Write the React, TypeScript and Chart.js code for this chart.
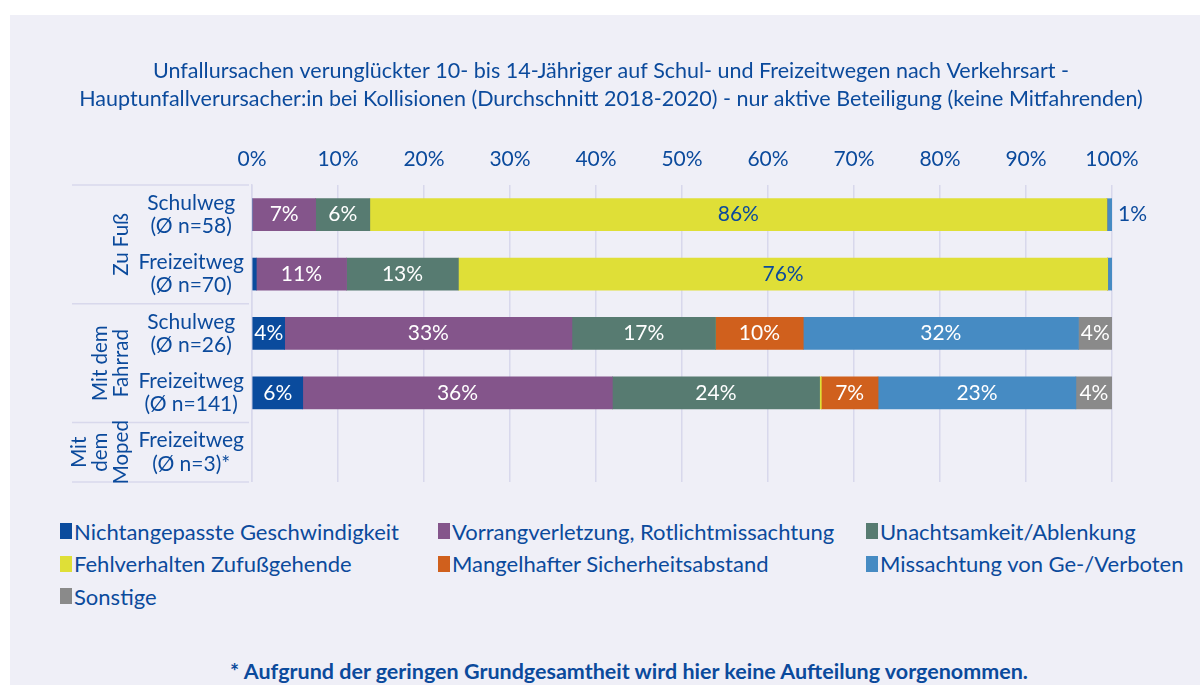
import React, { useEffect, useRef } from 'react';
import { Chart, registerables } from 'chart.js';
Chart.register(...registerables);

const FONT = 'Lato, "Noto Sans", sans-serif';
const TEXT = '#0b4a9c';
const GRID = '#d8d8ec';
const BG = '#efeff7';

const titleLines = [
  'Unfallursachen verunglückter 10- bis 14-Jähriger auf Schul- und Freizeitwegen nach Verkehrsart -',
  'Hauptunfallverursacher:in bei Kollisionen (Durchschnitt 2018-2020) - nur aktive Beteiligung (keine Mitfahrenden)',
];

const categories = [
  ['Schulweg', '(Ø n=58)'],
  ['Freizeitweg', '(Ø n=70)'],
  ['Schulweg', '(Ø n=26)'],
  ['Freizeitweg', '(Ø n=141)'],
  ['Freizeitweg', '(Ø n=3)*'],
];

const groupLabels = [['Zu Fuß'], ['Mit dem', 'Fahrrad'], ['Mit', 'dem', 'Moped']];
const groupStart = [0, 2, 4];
const groupEnd = [1, 3, 4];

const seriesNames = [
  'Nichtangepasste Geschwindigkeit',
  'Vorrangverletzung, Rotlichtmissachtung',
  'Unachtsamkeit/Ablenkung',
  'Fehlverhalten Zufußgehende',
  'Mangelhafter Sicherheitsabstand',
  'Missachtung von Ge-/Verboten',
  'Sonstige',
];
const seriesColors = ['#0a4b9d', '#84558b', '#577b71', '#dfdf37', '#d0601d', '#468bc3', '#8a8a8a'];
const labelColors = ['#ffffff', '#ffffff', '#ffffff', TEXT, '#ffffff', '#ffffff', '#ffffff'];

const nichtangepasst = [0, 0.5, 3.8, 5.9, null];
const vorrang = [7.4, 10.5, 33.4, 36.0, null];
const unachtsam = [6.3, 13.0, 16.7, 24.1, null];
const fehlverhalten = [85.7, 75.5, 0, 0.2, null];
const mangelhaft = [0, 0, 10.2, 6.6, null];
const missachtung = [0.6, 0.5, 32.0, 23.0, null];
const sonstige = [0, 0, 3.9, 4.2, null];
const seriesValues = [nichtangepasst, vorrang, unachtsam, fehlverhalten, mangelhaft, missachtung, sonstige];

const xTicks = [0, 10, 20, 30, 40, 50, 60, 70, 80, 90, 100];
const labelThreshold = 3;
// labels placed right of the bar: [datasetIndex, categoryIndex]
const outsideLabels = [[5, 0]];

const footnote = '* Aufgrund der geringen Grundgesamtheit wird hier keine Aufteilung vorgenommen.';

const titlePlugin = {
  id: 'customTitle',
  afterDraw(chart: any) {
    const ctx = chart.ctx;
    ctx.save();
    ctx.fillStyle = TEXT;
    ctx.font = `21.5px ${FONT}`;
    ctx.textAlign = 'center';
    ctx.textBaseline = 'middle';
    titleLines.forEach((t, i) => ctx.fillText(t, 601, 56 + i * 28));
    ctx.restore();
  },
};

const valueLabelPlugin = {
  id: 'valueLabels',
  afterDatasetsDraw(chart: any) {
    const ctx = chart.ctx;
    ctx.save();
    ctx.font = `21px ${FONT}`;
    ctx.textBaseline = 'middle';
    chart.data.datasets.forEach((ds: any, di: number) => {
      const meta = chart.getDatasetMeta(di);
      meta.data.forEach((bar: any, i: number) => {
        const v = ds.data[i];
        if (v == null) return;
        const outside = outsideLabels.some((o) => o[0] === di && o[1] === i);
        if (outside) {
          ctx.fillStyle = TEXT;
          ctx.textAlign = 'left';
          ctx.fillText(Math.round(v) + '%', bar.x + 6, bar.y);
          return;
        }
        if (v < labelThreshold) return;
        ctx.fillStyle = labelColors[di];
        ctx.textAlign = 'center';
        ctx.fillText(Math.round(v) + '%', (bar.x + bar.base) / 2, bar.y);
      });
    });
    ctx.restore();
  },
};

const groupPlugin = {
  id: 'groups',
  afterDraw(chart: any) {
    const ctx = chart.ctx;
    const y = chart.scales.y;
    const left = chart.chartArea.left;
    const half = (y.getPixelForValue(1) - y.getPixelForValue(0)) / 2;
    ctx.save();
    ctx.strokeStyle = GRID;
    ctx.lineWidth = 1.5;
    const bounds: number[] = [];
    groupStart.forEach((s, g) => {
      bounds.push(y.getPixelForValue(s) - half);
      if (g === groupStart.length - 1) bounds.push(y.getPixelForValue(groupEnd[g]) + half);
    });
    bounds.forEach((b) => {
      ctx.beginPath();
      ctx.moveTo(left - 180, b);
      ctx.lineTo(left - 3, b);
      ctx.stroke();
    });
    ctx.fillStyle = TEXT;
    ctx.font = `20.5px ${FONT}`;
    ctx.textAlign = 'center';
    ctx.textBaseline = 'middle';
    groupLabels.forEach((lines, g) => {
      const cy = (y.getPixelForValue(groupStart[g]) + y.getPixelForValue(groupEnd[g])) / 2;
      const n = lines.length;
      lines.forEach((line, k) => {
        const cx = left - 131 - (n - 1 - k) * 21;
        ctx.save();
        ctx.translate(cx, cy);
        ctx.rotate(-Math.PI / 2);
        ctx.fillText(line, 0, 0);
        ctx.restore();
      });
    });
    ctx.restore();
  },
};

export default function App() {
  const ref = useRef<HTMLCanvasElement>(null);
  useEffect(() => {
    const chart = new Chart(ref.current as HTMLCanvasElement, {
      type: 'bar',
      data: {
        labels: categories as any,
        datasets: seriesNames.map((name, i) => ({
          label: name,
          data: seriesValues[i] as any,
          backgroundColor: seriesColors[i],
          borderWidth: 0,
          barThickness: 32,
        })),
      },
      options: {
        indexAxis: 'y',
        animation: false,
        responsive: false,
        devicePixelRatio: 1,
        layout: { padding: { left: 0, right: 88, top: 98, bottom: 10 } },
        plugins: {
          legend: { display: false },
          tooltip: { enabled: false },
          title: { display: false },
        },
        scales: {
          x: {
            type: 'linear',
            position: 'top',
            stacked: true,
            min: 0,
            max: 100,
            afterBuildTicks: (s: any) => { s.ticks = xTicks.map((v) => ({ value: v })); },
            afterFit: (s: any) => { s.height = 72; },
            ticks: {
              color: TEXT,
              font: { family: FONT, size: 21 },
              padding: 13,
              callback: (v: any) => v + '%',
            },
            grid: { color: GRID, lineWidth: 1.5, drawTicks: false },
            border: { display: false },
          },
          y: {
            type: 'category',
            stacked: true,
            afterFit: (s: any) => { s.width = 242; },
            ticks: {
              color: TEXT,
              font: { family: FONT, size: 21, lineHeight: 1.1 },
              crossAlign: 'center',
              padding: 0,
              autoSkip: false,
            },
            grid: { display: false },
            border: { display: true, color: GRID, width: 1.5 },
          },
        },
      },
      plugins: [valueLabelPlugin, groupPlugin, titlePlugin],
    } as any);
    return () => chart.destroy();
  }, []);

  const legendCols = [50, 428, 856];
  return (
    <div style={{ position: 'absolute', left: 10, top: 15, width: 1190, height: 670, background: BG, overflow: 'hidden', fontFamily: FONT, color: TEXT }}>
      <canvas ref={ref} width={1190} height={490} style={{ position: 'absolute', left: 0, top: 0 }} />
      {seriesNames.map((name, i) => (
        <div key={name} style={{ position: 'absolute', left: legendCols[i % 3], top: 504 + Math.floor(i / 3) * 32.5, height: 24, display: 'flex', alignItems: 'center', fontSize: 22, whiteSpace: 'nowrap' }}>
          <span style={{ display: 'inline-block', width: 12, height: 16, background: seriesColors[i], marginRight: 2 }} />
          <span>{name}</span>
        </div>
      ))}
      <div style={{ position: 'absolute', left: 0, width: 1190, top: 643, textAlign: 'center', fontSize: 21.5, fontWeight: 'bold', paddingLeft: 48, boxSizing: 'border-box', whiteSpace: 'nowrap' }}>{footnote}</div>
    </div>
  );
}
